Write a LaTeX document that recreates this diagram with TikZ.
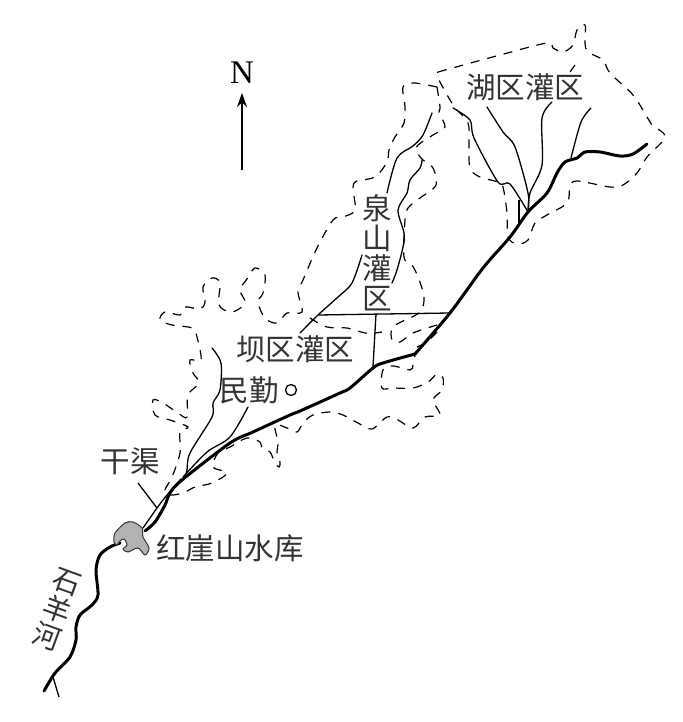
\documentclass[tikz,border=0pt]{standalone}
\usepackage{fontspec}
\setmainfont{Liberation Serif}
\newfontfamily\cjk{Noto Sans CJK SC}
\usetikzlibrary{arrows.meta}
\tikzset{
 bound/.style={line width=1.2pt,dash pattern=on 9pt off 8pt,smooth,tension=0.55},
 canal/.style={line width=1.3pt,line cap=round,smooth,tension=0.5},
 mainc/.style={line width=3pt,line cap=round,smooth,tension=0.5},
 plain/.style={line width=1.3pt},
 lab/.style={font=\cjk\fontsize{29.5}{30}\selectfont,inner sep=0pt,align=center,text=black!80}
}
\begin{document}
\begin{tikzpicture}[x=1pt,y=-1pt]
\useasboundingbox (0,0) rectangle (682,722);
% Hu qu boundary
\draw[bound] plot coordinates {(438,72)(500,55)(547,43)(553,48)(563,52)(573,45)(577,30)(585,25)(585,43)(588,52)(603,60)(610,73)(633,95)(647,117)(652,125)(665,137)(647,157)(637,173)(623,185)(610,187)(577,181)(570,187)(567,203)(547,215)(535,223)(528,240)(517,244)(508,237)(507,213)(503,187)(498,182)(480,177)(470,168)(469,143)(468,123)(455,108)(450,100)(438,78)(438,72)};
\draw[bound] (575,65) -- (570,72);
% Quan shan + Ba qu boundary
\draw[bound] plot coordinates {(437,87)(427,85)(413,83)(403,87)(405,107)(404,123)(395,137)(389,150)(387,162)(375,177)(357,181)(353,188)(355,210)(343,217)(333,220)(317,248)(303,280)(298,292)(302,312)(287,313)(277,323)(265,318)(258,302)(263,293)(265,275)(255,268)(247,279)(240,290)(245,303)(232,312)(219,305)(220,283)(212,278)(203,287)(205,302)(200,309)(185,307)(180,315)(165,312)(160,320)(172,325)(192,328)(197,337)(201,360)(190,360)(193,373)(199,383)(188,395)(187,417)(178,413)(163,403)(153,400)(155,415)(170,420)(188,427)(180,432)(180,453)(172,477)(165,490)(170,495)(183,493)(195,487)(212,483)(227,473)(213,467)(218,453)(230,447)(247,438)(260,442)(262,448)(270,452)(275,463)(279,467)(280,462)(277,452)(278,442)(275,425)(287,428)(297,432)(303,423)(313,415)(330,412)(343,415)(358,423)(372,429)(387,417)(398,420)(413,428)(425,417)(440,415)(433,400)(442,390)(443,378)(437,374)(428,382)(413,388)(393,388)(382,388)(383,370)(393,366)(410,370)(413,365)(415,355)};
\draw[bound] plot coordinates {(437,87)(440,107)(439,113)(445,127)(433,135)(418,145)(417,152)(423,160)(433,168)(436,185)(420,198)(408,208)(405,220)(404,257)(412,265)(418,277)(424,297)(420,312)(401,322)(392,328)(392,340)(400,342)(413,333)(437,325)};
\draw[bound] plot coordinates {(437,332)(427,342)(417,347)};
\draw[bound] plot coordinates {(310,318)(327,327)(347,328)(365,333)(375,333)(382,332)};
% Main canal
\draw[mainc] plot coordinates {(647,144)(633,154)(620,156)(600,152)(585,152)(577,158)(565,162)(557,173)(547,193)(528,212)(510,237)(483,268)(450,313)(415,354)};
\draw[mainc] plot coordinates {(415,354)(383,363)(373,368)(350,388)(340,393)(300,411)(290,415)(253,432)(230,443)(182,480)(170,493)(165,505)(155,522)(145,531)};
% River
\draw[mainc] plot coordinates {(120,543)(110,547)(100,555)(96,570)(98,595)(92,605)(80,615)(76,627)(76,640)(70,657)(55,673)(44,691)};
\draw[plain] (53,677) -- (59,697);
% Reservoir
\fill[black!30,draw=black!80,line width=1pt] plot[smooth cycle,tension=0.5] coordinates {(114,542)(115,533)(125,523)(133,522)(142,528)(143,537)(149,548)(145,555)(138,548)(128,552)(123,549)(127,545)(124,539)(120,541)(117,545)};
% Thin canals: Hu qu
\draw[canal] plot coordinates {(453,108)(470,120)(474,138)(498,182)(510,184)(528,212)};
\draw[canal] plot coordinates {(487,107)(503,132)(515,147)(528,193)(528,212)};
\draw[canal] plot coordinates {(552,102)(542,118)(542,165)(530,193)(528,212)};
\draw[canal] plot coordinates {(591,108)(581,122)(571,158)};
\draw[plain] (519,200) -- (519,223);
% Quan shan
\draw[canal] plot coordinates {(432,113)(423,135)(413,146)(397,158)(387,193)};
\draw[canal] plot coordinates {(422,160)(420,168)(410,180)(407,193)(398,210)(404,233)(403,247)(397,270)(392,283)};
\draw[canal] plot coordinates {(362,255)(352,283)(338,297)(318,315)(300,333)};
\draw[plain] (318,315) -- (450,313);
\draw[plain] (376,314) -- (373,367);
% Ba qu
\draw[canal] plot coordinates {(212,348)(221,363)(220,390)(213,403)(212,417)(190,453)(187,470)(185,478)};
\draw[canal] plot coordinates {(248,407)(230,437)(207,452)(183,477)};
\draw[canal] plot coordinates {(181,479)(167,495)(157,508)(143,528)};
% Labels
\node[lab] (hu) at (525,87) {湖区灌区};
\node[lab] (quan) at (377,253) {泉\\山\\灌\\区};
\node[lab] (ba) at (295,349) {坝区灌区};
\node[lab] (min) at (249,390) {民勤};
\node[draw,circle,line width=1.3pt,minimum size=11pt,inner sep=0pt] (minc) at (291,390) {};
\node[lab] (gan) at (130,461) {干渠};
\node[lab] (hong) at (230,548) {红崖山水库};
\node[lab,rotate=-20,font=\cjk\fontsize{28}{29.5}\selectfont] (shi) at (57,610) {石\\羊\\河};
\node[inner sep=0pt,font=\fontsize{33}{33}\selectfont] (north) at (242,73) {N};
% Leader and north arrow
\coordinate (leadA) at (138,483);
\coordinate (leadB) at (157,508);
\draw[plain] (leadA) -- (leadB);
\coordinate (arrS) at (242,170);
\draw[plain,-{Stealth[length=14pt,width=10pt]}] (arrS) -- (242,93);
\end{tikzpicture}
\end{document}
